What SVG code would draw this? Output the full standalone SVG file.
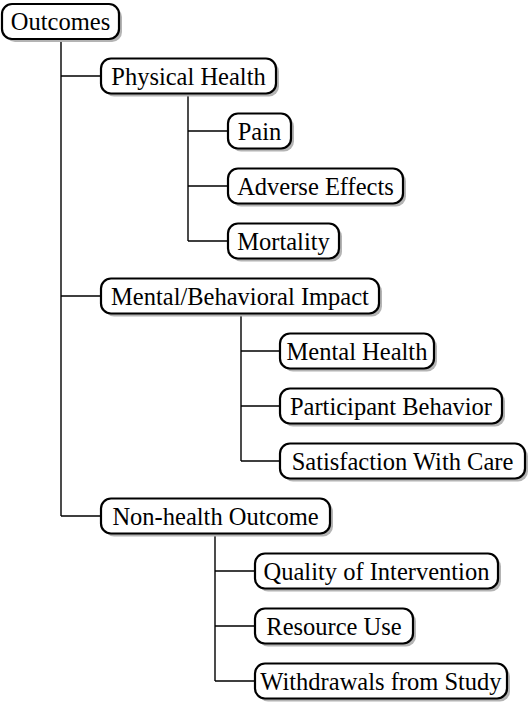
<svg xmlns="http://www.w3.org/2000/svg" width="530" height="708" viewBox="0 0 530 708">
<style>
.box{fill:#fff;stroke:#000;stroke-width:2.2}
.sh{fill:#b4b4b4}
.lbl{font-size:24.5px;fill:#000;text-anchor:middle}
.conn{fill:none;stroke:#000;stroke-width:1.4}
</style>
<rect width="530" height="708" fill="#fff"/>
<g id="connectors">
<path class="conn" d="M61 38V516M61 76H101M61 296H101M61 516H101"/>
<path class="conn" d="M188 93V241M188 131H228M188 186H228M188 241H228"/>
<path class="conn" d="M241 313V461M241 351H280M241 406H280M241 461H280"/>
<path class="conn" d="M215 533V681M215 571H255M215 626H255M215 681H255"/>
</g>
<g font-family="Liberation Serif, Times New Roman, Tinos, DejaVu Serif, serif">
<g id="n-outcomes"><rect class="sh" x="5" y="7" width="117" height="35" rx="10"/><rect class="box" x="2" y="4" width="117" height="35" rx="10"/><text class="lbl" x="60.5" y="29.5">Outcomes</text></g>
<g id="n-physical"><rect class="sh" x="104" y="61.5" width="175" height="35" rx="10"/><rect class="box" x="101" y="58.5" width="175" height="35" rx="10"/><text class="lbl" x="188.5" y="84.5">Physical Health</text></g>
<g id="n-pain"><rect class="sh" x="231" y="116.5" width="63" height="35" rx="10"/><rect class="box" x="228" y="113.5" width="63" height="35" rx="10"/><text class="lbl" x="259.5" y="139.5">Pain</text></g>
<g id="n-adverse"><rect class="sh" x="231" y="171.5" width="175" height="35" rx="10"/><rect class="box" x="228" y="168.5" width="175" height="35" rx="10"/><text class="lbl" x="315.5" y="194.5">Adverse Effects</text></g>
<g id="n-mortality"><rect class="sh" x="231" y="226.5" width="111" height="35" rx="10"/><rect class="box" x="228" y="223.5" width="111" height="35" rx="10"/><text class="lbl" x="283.5" y="249.5">Mortality</text></g>
<g id="n-mental-behavioral"><rect class="sh" x="104" y="281.5" width="278" height="35" rx="10"/><rect class="box" x="101" y="278.5" width="278" height="35" rx="10"/><text class="lbl" x="240" y="304.5">Mental/Behavioral Impact</text></g>
<g id="n-mental-health"><rect class="sh" x="283" y="336.5" width="154" height="35" rx="10"/><rect class="box" x="280" y="333.5" width="154" height="35" rx="10"/><text class="lbl" x="357" y="359.5">Mental Health</text></g>
<g id="n-participant"><rect class="sh" x="283" y="391.5" width="222" height="35" rx="10"/><rect class="box" x="280" y="388.5" width="222" height="35" rx="10"/><text class="lbl" x="391" y="414.5">Participant Behavior</text></g>
<g id="n-satisfaction"><rect class="sh" x="283" y="446.5" width="245" height="35" rx="10"/><rect class="box" x="280" y="443.5" width="245" height="35" rx="10"/><text class="lbl" x="402.5" y="469.5">Satisfaction With Care</text></g>
<g id="n-nonhealth"><rect class="sh" x="104" y="501.5" width="229" height="35" rx="10"/><rect class="box" x="101" y="498.5" width="229" height="35" rx="10"/><text class="lbl" x="215.5" y="524.5">Non-health Outcome</text></g>
<g id="n-quality"><rect class="sh" x="258" y="556.5" width="243" height="35" rx="10"/><rect class="box" x="255" y="553.5" width="243" height="35" rx="10"/><text class="lbl" x="376.5" y="579.5">Quality of Intervention</text></g>
<g id="n-resource"><rect class="sh" x="258" y="611.5" width="158" height="35" rx="10"/><rect class="box" x="255" y="608.5" width="158" height="35" rx="10"/><text class="lbl" x="334" y="634.5">Resource Use</text></g>
<g id="n-withdrawals"><rect class="sh" x="258" y="666.5" width="252" height="35" rx="10"/><rect class="box" x="255" y="663.5" width="252" height="35" rx="10"/><text class="lbl" x="381" y="689.5">Withdrawals from Study</text></g>
</g>
</svg>
